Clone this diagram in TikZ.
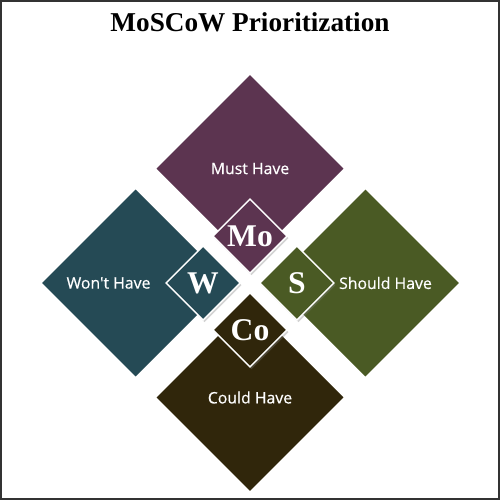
\documentclass[tikz,border=0pt]{standalone}
\usepackage{fontspec}
\usetikzlibrary{positioning, shapes.geometric, shadows}
\newfontfamily\lblfont[FakeBold=0.6]{Open Sans}
\newfontfamily\ttlfont{Liberation Serif}
\definecolor{mustc}{HTML}{5C3450}
\definecolor{wontc}{HTML}{254A55}
\definecolor{shouldc}{HTML}{4A5A24}
\definecolor{couldc}{HTML}{30260B}
\tikzset{
	big/.style={diamond, aspect=1, minimum size=3.74cm, inner sep=0pt, outer sep=0pt, fill=#1},
	small/.style={diamond, aspect=1, minimum size=1.48cm, inner sep=0pt, outer sep=0pt, fill=#1,
		draw=white, line width=0.8pt, text=white, font=\ttlfont\bfseries\fontsize{18}{18}\selectfont,
		drop shadow={opacity=0.35, shadow xshift=0.8pt, shadow yshift=-1.2pt}},
	lbl/.style={text=white, font=\lblfont\fontsize{9}{10}\selectfont},
}

\begin{document}
\begin{tikzpicture}[x=0.02cm, y=-0.02cm]
	\useasboundingbox (0,0) rectangle (500,500);
	\draw[draw=black!80, line width=1.1pt] (1,1) rectangle (499,499);

	\node[anchor=base, font=\ttlfont\bfseries\fontsize{15.5}{16}\selectfont] (title) at (250,32) {MoSCoW Prioritization};

	\coordinate (hub) at (250,283);

	\node[big=mustc, above=0.42cm of hub] (must) {};
	\node[big=wontc, left=0.42cm of hub] (wont) {};
	\node[big=shouldc, right=0.44cm of hub] (should) {};
	\node[big=couldc, below=0.42cm of hub] (could) {};

	\node[lbl] (mustl) at (must) {Must Have};
	\node[lbl, xshift=-0.54cm] (wontl) at (wont) {Won't Have};
	\node[lbl, xshift=0.4cm] (shouldl) at (should) {Should Have};
	\node[lbl] (couldl) at (could) {Could Have};

	\node[small=mustc, above=0.2cm of hub] (mo) {Mo};
	\node[small=wontc, left=0.2cm of hub] (w) {W};
	\node[small=shouldc, right=0.2cm of hub] (s) {S};
	\node[small=couldc, below=0.2cm of hub] (co) {Co};
\end{tikzpicture}
\end{document}
